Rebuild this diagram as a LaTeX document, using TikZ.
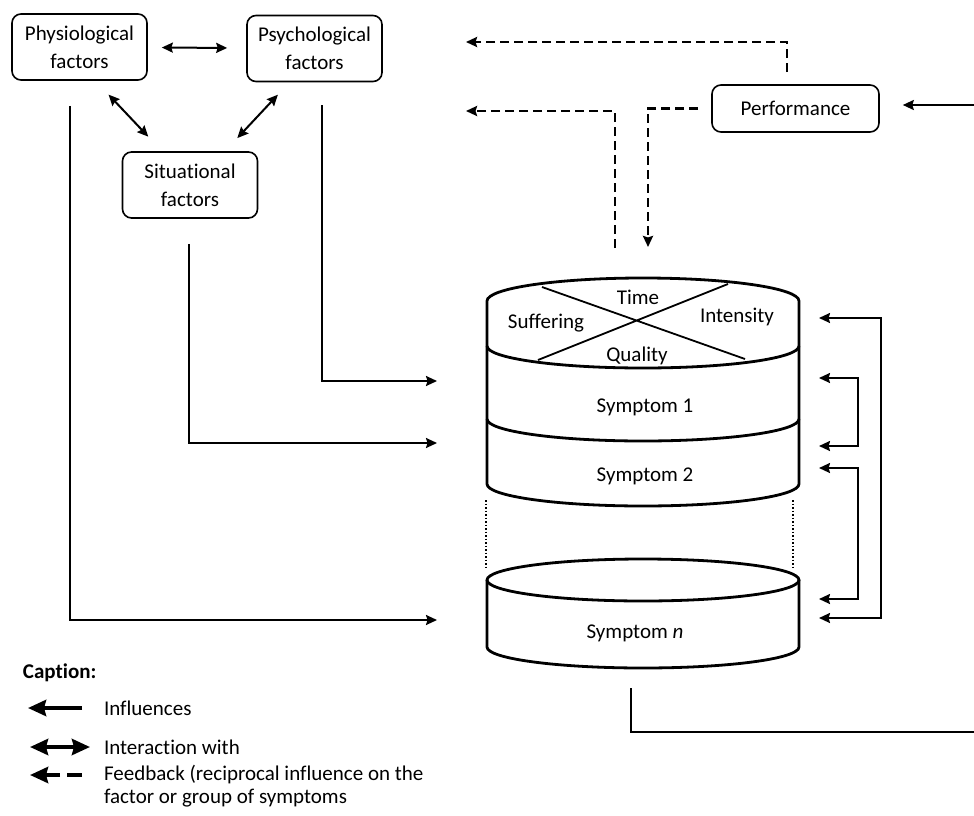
\documentclass[tikz,border=0pt]{standalone}
\usepackage{fontspec}
\setmainfont{Carlito}[Ligatures={NoCommon}]
\usepackage{tikz}
\usetikzlibrary{arrows.meta, positioning, calc}

\begin{document}
\begin{tikzpicture}[x=1pt,y=-1pt,>={Stealth[length=11pt,width=10pt,inset=1.5pt]},line width=2pt,
  every node/.style={font=\fontsize{21}{28}\selectfont},
  factor node/.style={rectangle,draw,rounded corners=9pt,line width=1.6pt,
  align=center,minimum width=135pt,minimum height=66pt,inner sep=2pt},
  legend text/.style={anchor=west,inner sep=0pt,align=left,
  font=\fontsize{21}{23}\selectfont},
  legend tip/.style={>={Stealth[length=18pt,width=16pt,inset=2pt]}},
  infl/.style={->,line width=2pt},
  inter/.style={<->,line width=2pt},
  fback/.style={->,line width=2.6pt,dash pattern=on 9pt off 5pt},
  layer/.style={line width=2.8pt}]
  \useasboundingbox (0,0) rectangle (974,816);

  \node[factor node] (phys) at (79.5,47) {Physiological\\factors};
  \node[factor node] (psych) at (314.5,48.5) {Psychological\\factors};
  \node[factor node] (sit) at (190,185) {Situational\\factors};
  \node[factor node,minimum width=167pt,minimum height=47pt] (perf) at (795.5,108.5) {Performance};

  % cylinder of symptoms
  \draw[layer] (487,301) arc[start angle=180,end angle=0,x radius=156pt,y radius=23pt]
    -- (799,484) arc[start angle=0,end angle=-180,x radius=156pt,y radius=22pt] -- cycle;
  \draw[layer] (487,346) arc[start angle=180,end angle=360,x radius=156pt,y radius=22pt];
  \draw[layer] (487,419) arc[start angle=180,end angle=360,x radius=156pt,y radius=22pt];
  \draw[line width=1.8pt] (542,287) -- (745,359) (728,284) -- (538,360);
  \draw[dotted,line width=1.5pt] (486,500) -- (486,569) (793,500) -- (793,569);
  \draw[layer] (643,580) ellipse[x radius=156pt,y radius=21pt];
  \draw[layer] (487,580) -- (487,647) arc[start angle=180,end angle=360,x radius=156pt,y radius=21pt] -- (799,580);

  \node (time) at (638,297) {Time};
  \node (suff) at (546,323) {Suffering};
  \node (intens) at (737,317) {Intensity};
  \node (qual) at (637,356) {Quality};
  \node (sym1) at (645,407) {Symptom 1};
  \node (sym2) at (645,476) {Symptom 2};
  \node (symn) at (635,633) {Symptom \textit{n}};

  \coordinate (s1in) at (437,381);
  \coordinate (s2in) at (437,443);
  \coordinate (snin) at (437,620);
  \coordinate (lidr) at (819,318);
  \coordinate (s1r) at (819,378);
  \coordinate (s2ra) at (819,446);
  \coordinate (s2rb) at (819,468);
  \coordinate (snra) at (819,599);
  \coordinate (snrb) at (819,618);
  \coordinate (lidup) at (615,248);
  \coordinate (liddown) at (648,247);
  \coordinate (fbtop) at (466,42);
  \coordinate (fbmid) at (466,111);
  \coordinate (perfsrc) at (974,105);
  \coordinate (snout) at (631,688);
  \coordinate (snend) at (974,732);

  % interactions between factors
  \draw[inter,shorten <=14pt,shorten >=19pt] (phys) -- (psych);
  \draw[inter,shorten <=19pt,shorten >=20pt] ([xshift=16pt]phys.south) -- ([xshift=-28pt]sit.north);
  \draw[inter,shorten <=17pt,shorten >=18pt] ([xshift=-25pt]psych.south) -- ([xshift=35pt]sit.north);

  % influences
  \draw[infl,shorten <=25pt] ([xshift=-9.5pt]phys.south) |- (snin);
  \draw[infl,shorten <=23pt] ([xshift=7.5pt]psych.south) |- (s1in);
  \draw[infl,shorten <=25pt] ([xshift=-1pt]sit.south) |- (s2in);
  \draw[inter] (lidr) -- ++(62,0) |- (snrb);
  \draw[inter] (s1r) -- ++(39,0) |- (s2ra);
  \draw[inter] (s2rb) -- ++(39,0) |- (snra);
  \draw[infl,shorten >=23pt] (perfsrc) -- (perfsrc -| perf.east);
  \draw (snout) |- (snend);

  % feedback
  \draw[fback,shorten <=12pt] ([xshift=-8.5pt]perf.north) |- (fbtop);
  \draw[fback,shorten <=13pt] (perf.west) -| (liddown);
  \draw[fback] (lidup) |- (fbmid);

  % caption
  \node[anchor=west,inner sep=0pt,font=\bfseries\fontsize{21}{24}\selectfont] (capt) at (22,673) {Caption:};
  \node[legend text] (lg1) at (103,708) {Influences};
  \node[legend text] (lg2) at (103,747) {Interaction with};
  \node[legend text] (lg3) at (103,786) {Feedback (reciprocal influence on the\\factor or group of symptoms};
  \draw[infl,legend tip,line width=4pt] ([xshift=-21pt]lg1.west) -- ++(-54,0);
  \draw[inter,legend tip,line width=4pt] ([xshift=-13pt]lg2.west) -- ++(-60,0);
  \draw[fback,legend tip,line width=4pt,dash pattern=on 15pt off 7pt] ([xshift=-21pt,yshift=11pt]lg3.west) -- ++(-52,0);
\end{tikzpicture}
\end{document}
